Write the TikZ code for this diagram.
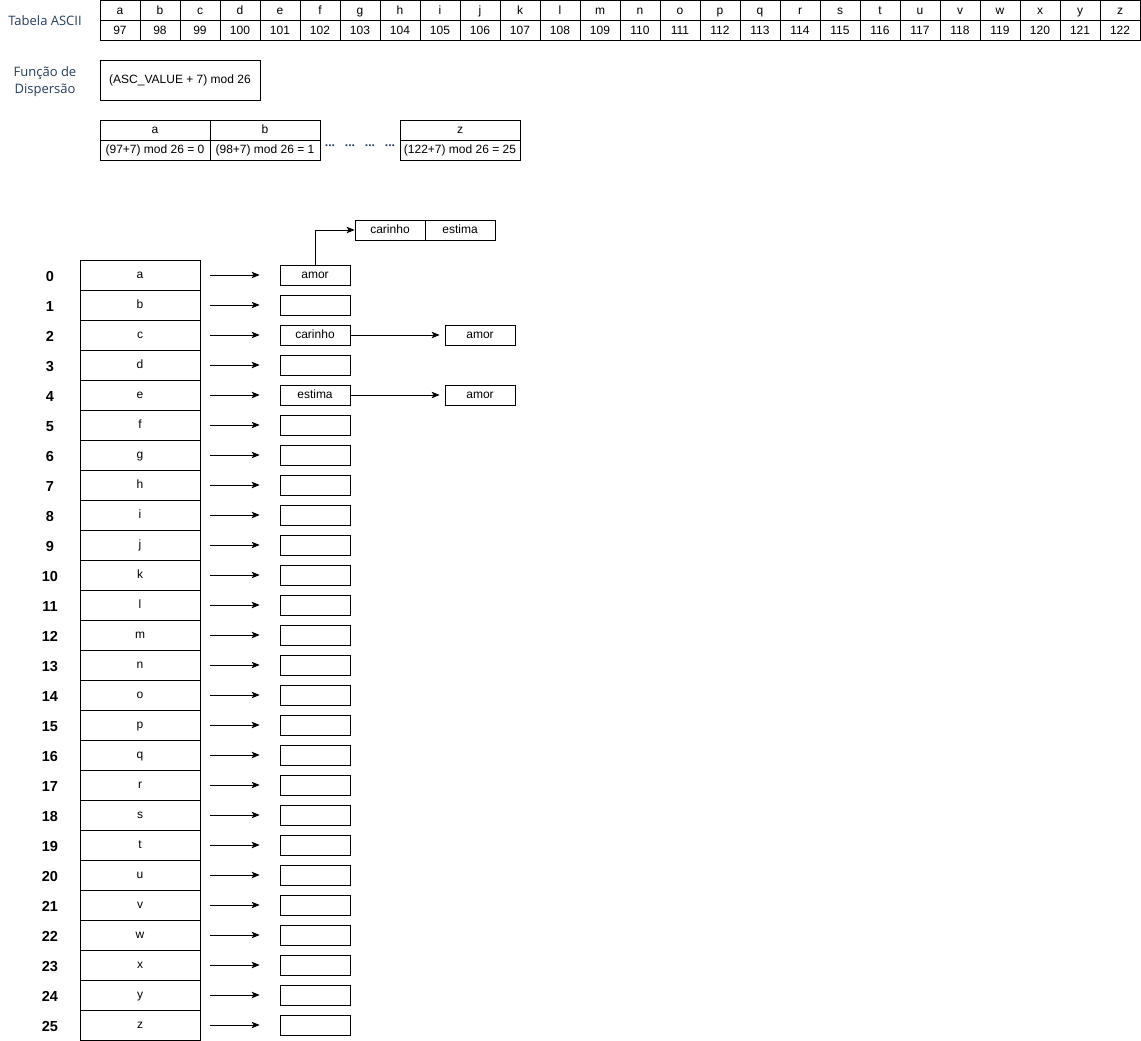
\documentclass[tikz,border=0pt]{standalone}
\usepackage{fontspec}
\setmainfont{Liberation Sans}
\newfontfamily\labelfont{Open Sans}
\usetikzlibrary{arrows.meta}
\definecolor{labelblue}{RGB}{36,62,92}
\newcommand{\rowgap}{30}
\tikzset{
  cell/.style={draw, line width=0.8pt, inner sep=0pt, text height=9.6pt, text depth=2.2pt,
    font=\fontsize{12}{14}\selectfont},
  asccell/.style={cell, minimum width=40pt, minimum height=20pt},
  funcbox/.style={cell, minimum width=160pt, minimum height=40pt},
  hashcell/.style={cell, minimum width=110pt, minimum height=20pt},
  keycell/.style={cell, minimum width=120pt, minimum height=30pt},
  bucket/.style={cell, minimum width=70pt, minimum height=20pt},
  idx/.style={inner sep=0pt, text height=10pt, text depth=0pt, font=\fontsize{14.5}{16}\selectfont\bfseries},
  sidelabel/.style={text=labelblue, font=\labelfont\fontsize{13}{17}\selectfont},
  dots/.style={text=labelblue, anchor=base, font=\labelfont\fontsize{12}{14}\selectfont\bfseries},
  link/.style={line width=0.8pt, -{Stealth[length=8pt, width=6.5pt, inset=2pt]}}
}

\begin{document}
\begin{tikzpicture}[x=1pt, y=-1pt]
\useasboundingbox (0,0) rectangle (1141,1041);

% tabela ascii
\node[sidelabel] (asctitle) at (45,21) {Tabela ASCII};
\foreach \ch [count=\i from 0] in {a,...,z} {
  \pgfmathtruncatemacro{\code}{97+\i}
  \node[asccell] (chr\i) at (120+40*\i, 10.5) {\ch};
  \node[asccell] (asc\i) at (120+40*\i, 30.5) {\code};
}

% funcao de dispersao
\node[sidelabel, align=center] (fnlabel) at (45,82) {Função de\\Dispersão};
\node[funcbox] (hashfn) at (180,80) {(ASC\_VALUE + 7) mod 26};

\node[hashcell] (hkeya) at (155,130) {a};
\node[hashcell] (hvala) at (155,150) {(97+7) mod 26 = 0};
\node[hashcell] (hkeyb) at (265,130) {b};
\node[hashcell] (hvalb) at (265,150) {(98+7) mod 26 = 1};
\node[hashcell, minimum width=120pt] (hkeyz) at (460,130) {z};
\node[hashcell, minimum width=120pt] (hvalz) at (460,150) {(122+7) mod 26 = 25};
\foreach \x [count=\k] in {330,350,370,390}
  \node[dots] (dots\k) at (\x,146) {...};

% tabela hash
\node[bucket] (chaincar) at (390,230) {carinho};
\node[bucket] (chainest) at (460,230) {estima};

\foreach \ch/\w [count=\i from 0] in {a/amor,b/{},c/carinho,d/{},e/estima,f/{},g/{},h/{},i/{},j/{},k/{},l/{},m/{},n/{},o/{},p/{},q/{},r/{},s/{},t/{},u/{},v/{},w/{},x/{},y/{},z/{}} {
  \node[idx] (idx\i) at (50, 276+\rowgap*\i) {\i};
  \node[keycell] (key\i) at (140, 275+\rowgap*\i) {\ch};
  \node[bucket] (bkt\i) at (315, 275+\rowgap*\i) {\w};
  \draw[link] ([xshift=10pt]key\i.east) -- ([xshift=-20pt]bkt\i.west);
}

\node[bucket] (next2) at (480,335) {amor};
\node[bucket] (next4) at (480,395) {amor};
\draw[link] (bkt2.east) -- ([xshift=-5pt]next2.west);
\draw[link] (bkt4.east) -- ([xshift=-5pt]next4.west);
\draw[link] (bkt0.north) |- (chaincar.west);

\end{tikzpicture}
\end{document}
